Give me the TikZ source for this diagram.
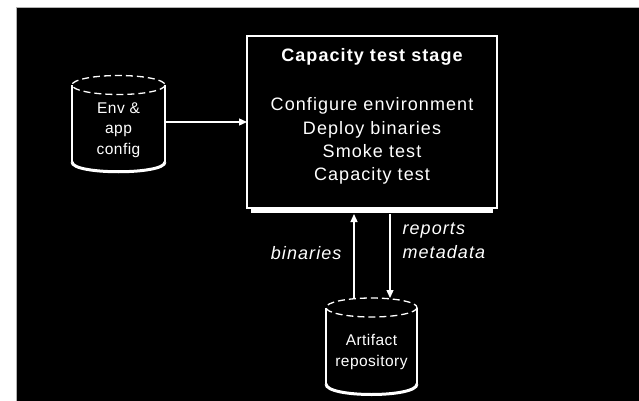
\documentclass[tikz,border=0pt]{standalone}
\usepackage{fontspec}
\setmainfont{Liberation Sans}
\newfontfamily\widesans[LetterSpace=6]{Liberation Sans}
\newfontfamily\midsans[LetterSpace=3]{Liberation Sans}
\usetikzlibrary{arrows.meta,calc}
\begin{document}
\begin{tikzpicture}[x=1pt,y=-1pt,
  line/.style={white,line width=1.3pt},
  arr/.style={line,-{Triangle[length=8pt,width=7pt]}},
  boxtext/.style={white,font=\widesans\fontsize{18}{23.3}\selectfont,align=center},
  cyltext/.style={white,font=\midsans\fontsize{15.5}{20.5}\selectfont,align=center},
  lbl/.style={white,font=\widesans\fontsize{18}{24}\selectfont\itshape,align=left},
  ghost/.style={inner sep=0pt,outer sep=0pt},
]
\useasboundingbox (0,0) rectangle (639,401);
\fill[white] (0,0) rectangle (639,401);
\fill[black] (16,7) rectangle (639,401);
\draw[gray!60,line width=1.5pt] (16.5,401) -- (16.5,7.5) -- (639,7.5);

% main stage box
\node[draw=white,line width=1.5pt,ghost,minimum width=250pt,minimum height=172pt] (stage) at (372,122) {};
\draw[white,line width=4pt] ($(stage.south west)+(4,3)$) -- ($(stage.south east)+(-4,3)$);
\node[boxtext,font=\widesans\fontsize{18}{23.3}\selectfont\bfseries] (title) at (372,57) {Capacity test stage};
\node[boxtext] (steps) at (372,141) {Configure environment\\Deploy binaries\\Smoke test\\Capacity test};

% env & app config cylinder
\node[ghost,minimum width=93pt,minimum height=92pt] (env) at (118.5,122) {};
\draw[line] (72,85) -- (72,162);
\draw[line] (165,85) -- (165,162);
\draw[line,dash pattern=on 7pt off 4pt] (118.5,85) ellipse [x radius=46.5, y radius=9.5];
\draw[white,line width=3pt] (72,162) .. controls (72,175) and (165,175) .. (165,162);
\node[cyltext] (envtext) at (118.5,130) {Env \&\\app\\config};

% artifact repository cylinder
\node[ghost,minimum width=91pt,minimum height=99pt] (repo) at (371.5,347.5) {};
\draw[line] (326,307.5) -- (326,384);
\draw[line] (417,307.5) -- (417,384);
\draw[line,dash pattern=on 7pt off 4pt] (371.5,307.5) ellipse [x radius=45.5, y radius=9.5];
\draw[white,line width=3pt] (326,384) .. controls (326,398) and (417,398) .. (417,384);
\node[cyltext] (repotext) at (371.5,352) {Artifact\\repository};

% connectors
\draw[arr] (env.east) -- (env.east -| stage.west);
\coordinate (upstart) at ($(repo.north)+(-17.5,0)$);
\coordinate (upend) at ($(stage.south)+(-18,6)$);
\draw[arr] (upstart) -- (upend);
\coordinate (downstart) at ($(stage.south)+(18,6)$);
\coordinate (downend) at ($(repo.north)+(18.5,0)$);
\draw[arr] (downstart) -- (downend);

% labels
\node[lbl,anchor=east] (binlbl) at (345,253) {binaries};
\node[lbl,anchor=west] (replbl) at (399,241) {reports\\metadata};
\end{tikzpicture}
\end{document}
